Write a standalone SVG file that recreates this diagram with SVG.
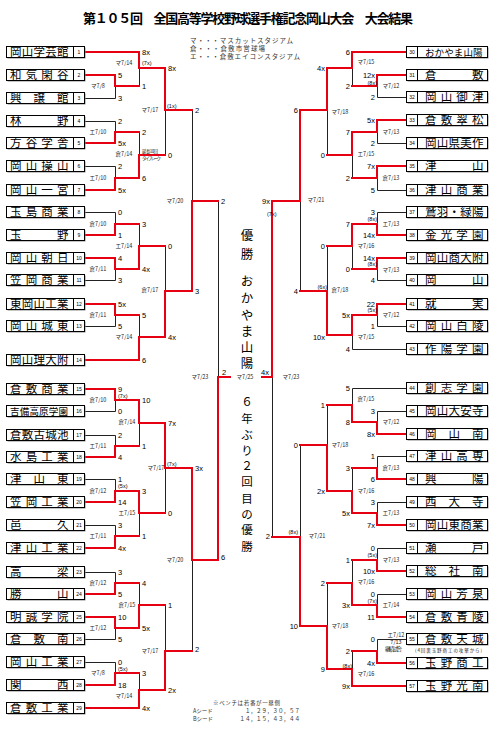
<svg xmlns="http://www.w3.org/2000/svg" xmlns:xlink="http://www.w3.org/1999/xlink" width="495" height="732" viewBox="0 0 495 732">
<style>
.bx{fill:#fff;stroke:#000;stroke-width:1}
.nm{font-family:"Noto Sans CJK JP",sans-serif;font-size:11.5px;fill:#000}
.n6{font-size:9.5px}
.no{font-family:"Liberation Sans",sans-serif;font-size:5px;text-anchor:middle;fill:#000}
.k{fill:none;stroke:#222;stroke-width:1}
.r{fill:none;stroke:#e60012;stroke-width:2;stroke-linecap:square}
.sc{font-family:"Liberation Sans",sans-serif;font-size:7.5px;fill:#000}
.se{font-family:"Liberation Sans",sans-serif;font-size:7.5px;fill:#000;text-anchor:end}
.in{font-family:"Liberation Sans",sans-serif;font-size:5.5px;fill:#000}
.ie{font-family:"Liberation Sans",sans-serif;font-size:5.5px;fill:#000;text-anchor:end}
.dt{font-family:"Noto Sans CJK JP",sans-serif;font-size:5.5px;text-anchor:middle;fill:#222}
.sm{font-family:"Noto Sans CJK JP",sans-serif;font-size:4.5px;fill:#222}
.ct{font-family:"Noto Sans CJK JP",sans-serif;font-size:12.5px;text-anchor:middle;fill:#000}
.c2{font-family:"Noto Sans CJK JP",sans-serif;font-size:11.5px;text-anchor:middle;fill:#000}
.lg{font-family:"Noto Sans CJK JP",sans-serif;font-size:6.5px;fill:#333}
.nt{font-family:"Noto Sans CJK JP",sans-serif;font-size:5.5px;fill:#333}
</style>
<defs>
<g id="bl"><rect x="7.5" y="1" width="78" height="11" fill="#8a8a8a"/><rect class="bx" x="6.5" y="0" width="67" height="11"/><rect class="bx" x="73.5" y="0" width="11" height="11"/></g>
<g id="br"><rect x="407.5" y="1" width="81" height="11" fill="#8a8a8a"/><rect class="bx" x="406.5" y="0" width="11" height="11"/><rect class="bx" x="417.5" y="0" width="70" height="11"/></g>
</defs>
<rect width="495" height="732" fill="#fff"/>
<text x="83" y="22.5" textLength="330" font-family="Noto Sans CJK JP, sans-serif" font-size="13" font-weight="bold">第１０５回　全国高等学校野球選手権記念岡山大会　大会結果</text>
<g id="legend">
<text class="lg" x="190" y="42.5" textLength="103">マ・・・マスカットスタジアム</text>
<text class="lg" x="190" y="50.5" textLength="75">倉・・・倉敷市営球場</text>
<text class="lg" x="190" y="58.5" textLength="110">エ・・・倉敷エイコンスタジアム</text>
</g>
<g id="connectors">
<path class="k" transform="translate(0.5,0.5)" d="M84 98H115M84 121H115M84 166H115M84 212H115M84 280H115M84 326H115M84 411H115M84 435H115M84 479H115M84 525H115M84 572H115M84 639H115M84 662H115
M115 98V86M115 121V132M115 166V178M115 212V224M115 280V269M115 326V315M115 411V400M115 435V446M115 479V491M115 525V536M115 572V583M115 639V628M115 662V673
M139 86V68M139 132V155M139 224V246M139 315V337M139 446V423M139 536V513M139 583V605M139 673V690
M165 155V110M165 246V291M165 513V468M165 605V651
M192 110V201M192 651V560M218 201V377
M407 97H377M407 143H377M407 190H377M407 212H377M407 280H377M407 326H377M407 349H352M407 388H352M407 411H377M407 456H377M407 502H377M407 548H377M407 594H377M407 639H377
M377 97V86M377 143V132M377 190V178M377 212V224M377 280V269M377 326V315M377 411V422M377 456V468M377 502V513M377 548V560M377 594V605M377 639V651
M352 86V68M352 178V155M352 269V246M352 349V335M352 388V405M352 468V491M352 560V583M352 651V669
M327 155V110M327 246V291M327 405V445M327 583V626
M300 291V201M300 445V537M272 537V377"/>
<path class="r" d="M84 52H139M84 75H115M84 143H115M84 190H115M84 235H115M84 258H115M84 304H115M84 360H139M84 389H115M84 457H115M84 502H115M84 548H115M84 594H115M84 617H115M84 685H115M84 708H139
M115 75V86H139M115 143V132H139M115 190V178H139M115 235V224H139M115 258V269H139M115 304V315H139M115 389V400H139M115 457V446H139M115 502V491H139M115 548V536H139M115 594V583H139M115 617V628H139M115 685V673H139
M139 52V68H165M139 178V155H165M139 269V246H165M139 360V337H165M139 400V423H165M139 491V513H165M139 628V605H165M139 708V690H165
M165 68V110H192M165 337V291H192M165 423V468H192M165 690V651H192
M192 291V201H218M192 468V560H218M218 560V377H230
M407 52H352M407 75H377M407 120H377M407 166H377M407 235H377M407 258H377M407 304H377M407 434H377M407 479H377M407 525H377M407 571H377M407 617H377M407 663H377M407 686H352
M377 75V86H352M377 120V132H352M377 166V178H352M377 235V224H352M377 258V269H352M377 304V315H352M377 434V422H352M377 479V468H352M377 525V513H352M377 571V560H352M377 617V605H352M377 663V651H352
M352 52V68H327M352 132V155H327M352 224V246H327M352 315V335H327M352 422V405H327M352 513V491H327M352 605V583H327M352 686V669H327
M327 68V110H300M327 335V291H300M327 491V445H300M327 669V626H300
M300 110V201H272M300 626V537H272M272 201V377H262"/>
</g>
<g id="t1"><use href="#bl" y="46.5"/><text class="nm" x="10 21.8 33.5 45.3 57" y="56">岡山学芸館</text><text class="no" x="79" y="54">1</text></g>
<g id="t2"><use href="#bl" y="69.5"/><text class="nm" x="10 25.7 41.3 57" y="79">和気閑谷</text><text class="no" x="79" y="77">2</text></g>
<g id="t3"><use href="#bl" y="92.5"/><text class="nm" x="10 33.5 57" y="102">興譲館</text><text class="no" x="79" y="100">3</text></g>
<g id="t4"><use href="#bl" y="115.5"/><text class="nm" x="10 57" y="125">林野</text><text class="no" x="79" y="123">4</text></g>
<g id="t5"><use href="#bl" y="137.5"/><text class="nm" x="10 25.7 41.3 57" y="147">方谷学舎</text><text class="no" x="79" y="145">5</text></g>
<g id="t6"><use href="#bl" y="160.5"/><text class="nm" x="10 25.7 41.3 57" y="170">岡山操山</text><text class="no" x="79" y="168">6</text></g>
<g id="t7"><use href="#bl" y="184.5"/><text class="nm" x="10 25.7 41.3 57" y="194">岡山一宮</text><text class="no" x="79" y="192">7</text></g>
<g id="t8"><use href="#bl" y="206.5"/><text class="nm" x="10 25.7 41.3 57" y="216">玉島商業</text><text class="no" x="79" y="214">8</text></g>
<g id="t9"><use href="#bl" y="229.5"/><text class="nm" x="10 57" y="239">玉野</text><text class="no" x="79" y="237">9</text></g>
<g id="t10"><use href="#bl" y="252.5"/><text class="nm" x="10 25.7 41.3 57" y="262">岡山朝日</text><text class="no" x="79" y="260">10</text></g>
<g id="t11"><use href="#bl" y="274.5"/><text class="nm" x="10 25.7 41.3 57" y="284">笠岡商業</text><text class="no" x="79" y="282">11</text></g>
<g id="t12"><use href="#bl" y="298.5"/><text class="nm" x="10 21.8 33.5 45.3 57" y="308">東岡山工業</text><text class="no" x="79" y="306">12</text></g>
<g id="t13"><use href="#bl" y="320.5"/><text class="nm" x="10 25.7 41.3 57" y="330">岡山城東</text><text class="no" x="79" y="328">13</text></g>
<g id="t14"><use href="#bl" y="354.5"/><text class="nm" x="10 21.8 33.5 45.3 57" y="364">岡山理大附</text><text class="no" x="79" y="362">14</text></g>
<g id="t15"><use href="#bl" y="383.5"/><text class="nm" x="10 25.7 41.3 57" y="393">倉敷商業</text><text class="no" x="79" y="391">15</text></g>
<g id="t16"><use href="#bl" y="405.5"/><text class="nm n6" x="10 19.7 29.4 39.1 48.8 58.5" y="414.5">吉備高原学園</text><text class="no" x="79" y="413">16</text></g>
<g id="t17"><use href="#bl" y="429.5"/><text class="nm" x="10 21.8 33.5 45.3 57" y="439">倉敷古城池</text><text class="no" x="79" y="437">17</text></g>
<g id="t18"><use href="#bl" y="451.5"/><text class="nm" x="10 25.7 41.3 57" y="461">水島工業</text><text class="no" x="79" y="459">18</text></g>
<g id="t19"><use href="#bl" y="473.5"/><text class="nm" x="10 33.5 57" y="483">津山東</text><text class="no" x="79" y="481">19</text></g>
<g id="t20"><use href="#bl" y="496.5"/><text class="nm" x="10 25.7 41.3 57" y="506">笠岡工業</text><text class="no" x="79" y="504">20</text></g>
<g id="t21"><use href="#bl" y="519.5"/><text class="nm" x="10 57" y="529">邑久</text><text class="no" x="79" y="527">21</text></g>
<g id="t22"><use href="#bl" y="542.5"/><text class="nm" x="10 25.7 41.3 57" y="552">津山工業</text><text class="no" x="79" y="550">22</text></g>
<g id="t23"><use href="#bl" y="566.5"/><text class="nm" x="10 57" y="576">高梁</text><text class="no" x="79" y="574">23</text></g>
<g id="t24"><use href="#bl" y="588.5"/><text class="nm" x="10 57" y="598">勝山</text><text class="no" x="79" y="596">24</text></g>
<g id="t25"><use href="#bl" y="611.5"/><text class="nm" x="10 25.7 41.3 57" y="621">明誠学院</text><text class="no" x="79" y="619">25</text></g>
<g id="t26"><use href="#bl" y="633.5"/><text class="nm" x="10 33.5 57" y="643">倉敷南</text><text class="no" x="79" y="641">26</text></g>
<g id="t27"><use href="#bl" y="656.5"/><text class="nm" x="10 25.7 41.3 57" y="666">岡山工業</text><text class="no" x="79" y="664">27</text></g>
<g id="t28"><use href="#bl" y="679.5"/><text class="nm" x="10 57" y="689">関西</text><text class="no" x="79" y="687">28</text></g>
<g id="t29"><use href="#bl" y="702.5"/><text class="nm" x="10 25.7 41.3 57" y="712">倉敷工業</text><text class="no" x="79" y="710">29</text></g>
<g id="t30"><use href="#br" y="46.5"/><text class="nm n6" x="425 434.6 444.2 453.8 463.4 473" y="55.5">おかやま山陽</text><text class="no" x="412" y="54">30</text></g>
<g id="t31"><use href="#br" y="69.5"/><text class="nm" x="425 472" y="79">倉敷</text><text class="no" x="412" y="77">31</text></g>
<g id="t32"><use href="#br" y="91.5"/><text class="nm" x="425 440.7 456.3 472" y="101">岡山御津</text><text class="no" x="412" y="99">32</text></g>
<g id="t33"><use href="#br" y="114.5"/><text class="nm" x="425 440.7 456.3 472" y="124">倉敷翠松</text><text class="no" x="412" y="122">33</text></g>
<g id="t34"><use href="#br" y="137.5"/><text class="nm" x="425 436.8 448.5 460.3 472" y="147">岡山県美作</text><text class="no" x="412" y="145">34</text></g>
<g id="t35"><use href="#br" y="160.5"/><text class="nm" x="425 472" y="170">津山</text><text class="no" x="412" y="168">35</text></g>
<g id="t36"><use href="#br" y="184.5"/><text class="nm" x="425 440.7 456.3 472" y="194">津山商業</text><text class="no" x="412" y="192">36</text></g>
<g id="t37"><use href="#br" y="206.5"/><text class="nm" x="425 436.8 448.5 460.3 472" y="216">鷲羽・緑陽</text><text class="no" x="412" y="214">37</text></g>
<g id="t38"><use href="#br" y="229.5"/><text class="nm" x="425 440.7 456.3 472" y="239">金光学園</text><text class="no" x="412" y="237">38</text></g>
<g id="t39"><use href="#br" y="252.5"/><text class="nm" x="425 436.8 448.5 460.3 472" y="262">岡山商大附</text><text class="no" x="412" y="260">39</text></g>
<g id="t40"><use href="#br" y="274.5"/><text class="nm" x="425 472" y="284">岡山</text><text class="no" x="412" y="282">40</text></g>
<g id="t41"><use href="#br" y="298.5"/><text class="nm" x="425 472" y="308">就実</text><text class="no" x="412" y="306">41</text></g>
<g id="t42"><use href="#br" y="320.5"/><text class="nm" x="425 440.7 456.3 472" y="330">岡山白陵</text><text class="no" x="412" y="328">42</text></g>
<g id="t43"><use href="#br" y="343.5"/><text class="nm" x="425 440.7 456.3 472" y="353">作陽学園</text><text class="no" x="412" y="351">43</text></g>
<g id="t44"><use href="#br" y="382.5"/><text class="nm" x="425 440.7 456.3 472" y="392">創志学園</text><text class="no" x="412" y="390">44</text></g>
<g id="t45"><use href="#br" y="405.5"/><text class="nm" x="425 436.8 448.5 460.3 472" y="415">岡山大安寺</text><text class="no" x="412" y="413">45</text></g>
<g id="t46"><use href="#br" y="428.5"/><text class="nm" x="425 448.5 472" y="438">岡山南</text><text class="no" x="412" y="436">46</text></g>
<g id="t47"><use href="#br" y="450.5"/><text class="nm" x="425 440.7 456.3 472" y="460">津山高専</text><text class="no" x="412" y="458">47</text></g>
<g id="t48"><use href="#br" y="473.5"/><text class="nm" x="425 472" y="483">興陽</text><text class="no" x="412" y="481">48</text></g>
<g id="t49"><use href="#br" y="496.5"/><text class="nm" x="425 448.5 472" y="506">西大寺</text><text class="no" x="412" y="504">49</text></g>
<g id="t50"><use href="#br" y="519.5"/><text class="nm" x="425 436.8 448.5 460.3 472" y="529">岡山東商業</text><text class="no" x="412" y="527">50</text></g>
<g id="t51"><use href="#br" y="542.5"/><text class="nm" x="425 472" y="552">瀬戸</text><text class="no" x="412" y="550">51</text></g>
<g id="t52"><use href="#br" y="565.5"/><text class="nm" x="425 448.5 472" y="575">総社南</text><text class="no" x="412" y="573">52</text></g>
<g id="t53"><use href="#br" y="588.5"/><text class="nm" x="425 440.7 456.3 472" y="598">岡山芳泉</text><text class="no" x="412" y="596">53</text></g>
<g id="t54"><use href="#br" y="611.5"/><text class="nm" x="425 440.7 456.3 472" y="621">倉敷青陵</text><text class="no" x="412" y="619">54</text></g>
<g id="t55"><use href="#br" y="633.5"/><text class="nm" x="425 440.7 456.3 472" y="643">倉敷天城</text><text class="no" x="412" y="641">55</text></g>
<g id="t56"><use href="#br" y="657.5"/><text class="nm" x="425 440.7 456.3 472" y="667">玉野商工</text><text class="no" x="412" y="665">56</text></g>
<g id="t57"><use href="#br" y="680.5"/><text class="nm" x="425 440.7 456.3 472" y="690">玉野光南</text><text class="no" x="412" y="688">57</text></g>
<g id="scores-left">
<text class="sc" x="118" y="77.5">5</text><text class="sc" x="118" y="100.5">3</text><text class="sc" x="118" y="123.5">2</text><text class="sc" x="118" y="145.5">5x</text><text class="sc" x="118" y="168.5">2</text><text class="sc" x="118" y="192.5">5x</text><text class="sc" x="118" y="214.5">0</text><text class="sc" x="118" y="237.5">1</text><text class="sc" x="118" y="260.5">4</text><text class="sc" x="118" y="282.5">3</text><text class="sc" x="118" y="306.5">5x</text><text class="sc" x="118" y="328.5">5</text><text class="sc" x="118" y="391.5">9</text><text class="in" x="118" y="397.5">(7x)</text><text class="sc" x="118" y="413.5">0</text><text class="sc" x="118" y="437.5">2</text><text class="sc" x="118" y="459.5">4</text><text class="sc" x="118" y="481.5">1</text><text class="in" x="118" y="487.5">(5x)</text><text class="sc" x="118" y="504.5">14</text><text class="sc" x="118" y="527.5">3</text><text class="sc" x="118" y="550.5">4x</text><text class="sc" x="118" y="574.5">3</text><text class="sc" x="118" y="596.5">5</text><text class="sc" x="118" y="619.5">10</text><text class="sc" x="118" y="641.5">5</text><text class="sc" x="118" y="664.5">0</text><text class="in" x="118" y="670.5">(5x)</text><text class="sc" x="118" y="687.5">18</text>
<text class="sc" x="142" y="54.5">8x</text><text class="in" x="142" y="65">(7x)</text><text class="sc" x="142" y="88.5">1</text><text class="sc" x="142" y="134.5">2</text><text class="sm" x="142" y="152.5" textLength="16">延長10回</text><text class="sm" x="142" y="160" textLength="19">タイブレーク</text><text class="sc" x="142" y="180.5">6</text><text class="sc" x="142" y="226.5">3</text><text class="sc" x="142" y="271.5">4x</text><text class="sc" x="142" y="317.5">5</text><text class="sc" x="142" y="362.5">6</text><text class="sc" x="142" y="402.5">10</text><text class="sc" x="142" y="448.5">1</text><text class="sc" x="142" y="493.5">3</text><text class="sc" x="142" y="538.5">1</text><text class="sc" x="142" y="585.5">4</text><text class="sc" x="142" y="630.5">5x</text><text class="sc" x="142" y="675.5">3</text><text class="sc" x="142" y="710.5">4x</text>
<text class="sc" x="168" y="70.5">8x</text><text class="in" x="167" y="108">(1x)</text><text class="sc" x="168" y="157.5">0</text><text class="sc" x="168" y="248.5">0</text><text class="sc" x="168" y="339.5">4x</text><text class="sc" x="168" y="425.5">7x</text><text class="in" x="167" y="466">(7x)</text><text class="sc" x="168" y="515.5">0</text><text class="sc" x="168" y="607.5">1</text><text class="sc" x="168" y="692.5">2x</text>
<text class="sc" x="195" y="112.5">2</text><text class="sc" x="195" y="293.5">3</text><text class="sc" x="195" y="470.5">3x</text><text class="sc" x="195" y="651.5">2</text>
<text class="sc" x="221" y="203.5">2</text><text class="sc" x="221" y="560">6</text>
<text class="sc" x="222" y="374.5">2</text><text class="se" x="269" y="374.5">4x</text>
</g>
<g id="scores-right">
<text class="se" x="375" y="77.5">12x</text><text class="ie" x="377" y="85">(8x)</text><text class="se" x="375" y="99.5">2</text><text class="se" x="375" y="122.5">5x</text><text class="se" x="375" y="145.5">2</text><text class="se" x="375" y="168.5">7x</text><text class="se" x="375" y="192.5">5</text><text class="se" x="375" y="214.5">3</text><text class="ie" x="377" y="221">(8x)</text><text class="se" x="375" y="237.5">14x</text><text class="se" x="375" y="260.5">14x</text><text class="ie" x="377" y="266">(8x)</text><text class="se" x="375" y="282.5">4</text><text class="se" x="375" y="306.5">22</text><text class="ie" x="377" y="312">(5x)</text><text class="se" x="375" y="328.5">1</text><text class="se" x="375" y="413.5">3</text><text class="se" x="375" y="436.5">8x</text><text class="se" x="375" y="458.5">1</text><text class="se" x="375" y="481.5">6</text><text class="se" x="375" y="504.5">3</text><text class="se" x="375" y="527.5">7x</text><text class="se" x="375" y="550.5">0</text><text class="ie" x="377" y="557">(5x)</text><text class="se" x="375" y="573.5">10x</text><text class="se" x="375" y="596.5">0</text><text class="ie" x="377" y="603">(7x)</text><text class="se" x="375" y="619.5">11</text><text class="se" x="375" y="641.5">0</text><text class="se" x="375" y="665.5">4x</text>
<text class="se" x="350" y="54.5">6</text><text class="se" x="350" y="88.5">2</text><text class="se" x="350" y="134.5">7</text><text class="se" x="350" y="180.5">2</text><text class="se" x="350" y="226.5">7</text><text class="se" x="350" y="271.5">0</text><text class="se" x="350" y="317.5">5x</text><text class="se" x="350" y="351.5">4</text><text class="se" x="350" y="390.5">5</text><text class="se" x="350" y="424.5">8</text><text class="se" x="350" y="470.5">3</text><text class="se" x="350" y="515.5">5x</text><text class="se" x="350" y="562.5">1</text><text class="se" x="350" y="607.5">3x</text><text class="se" x="350" y="653.5">2</text><text class="ie" x="352" y="667.5">(8x)</text><text class="se" x="350" y="688.5">9x</text>
<text class="se" x="325" y="70.5">4x</text><text class="se" x="325" y="157.5">0</text><text class="se" x="325" y="248.5">0</text><text class="ie" x="327" y="289">(6x)</text><text class="se" x="325" y="339.5">10x</text><text class="se" x="325" y="407.5">1</text><text class="se" x="325" y="493.5">2x</text><text class="se" x="325" y="585.5">2</text><text class="se" x="325" y="671.5">9</text>
<text class="se" x="298" y="112.5">6</text><text class="se" x="298" y="293.5">4</text><text class="se" x="298" y="447.5">0</text><text class="ie" x="298" y="534">(8x)</text><text class="se" x="298" y="628.5">10</text>
<text class="se" x="270" y="203.5">9x</text><text class="in" x="267" y="216">(7x)</text><text class="se" x="270" y="539">2</text>
</g>
<g id="dates">
<text class="dt" x="98" y="88">マ7/8</text><text class="dt" x="98" y="134">エ7/10</text><text class="dt" x="98" y="180">エ7/10</text><text class="dt" x="98" y="226">倉7/10</text><text class="dt" x="98" y="271">倉7/11</text><text class="dt" x="98" y="317">倉7/11</text><text class="dt" x="98" y="402">倉7/10</text><text class="dt" x="98" y="448">エ7/11</text><text class="dt" x="98" y="493">倉7/12</text><text class="dt" x="98" y="538">エ7/11</text><text class="dt" x="98" y="585">倉7/12</text><text class="dt" x="98" y="630">エ7/12</text><text class="dt" x="98" y="675">マ7/8</text>
<text class="dt" x="124" y="65">マ7/14</text><text class="dt" x="124" y="156">倉7/14</text><text class="dt" x="124" y="248">エ7/14</text><text class="dt" x="124" y="339">マ7/14</text><text class="dt" x="127" y="424">倉7/14</text><text class="dt" x="127" y="515">エ7/15</text><text class="dt" x="127" y="607">倉7/15</text><text class="dt" x="124" y="698">マ7/14</text>
<text class="dt" x="150" y="112">マ7/17</text><text class="dt" x="150" y="292">倉7/17</text><text class="dt" x="156" y="470">マ7/17</text><text class="dt" x="150" y="653">マ7/17</text>
<text class="dt" x="175" y="203">マ7/20</text><text class="dt" x="175" y="562">マ7/20</text>
<text class="dt" x="200" y="379">マ7/23</text><text class="dt" x="245" y="379">マ7/25</text><text class="dt" x="291" y="379">マ7/23</text>
<text class="dt" x="391" y="88">マ7/12</text><text class="dt" x="391" y="134">マ7/13</text><text class="dt" x="391" y="180">倉7/13</text><text class="dt" x="391" y="226">エ7/13</text><text class="dt" x="391" y="272">マ7/13</text><text class="dt" x="391" y="317">マ7/12</text><text class="dt" x="391" y="424">マ7/12</text><text class="dt" x="391" y="470">倉7/13</text><text class="dt" x="391" y="515">エ7/13</text><text class="dt" x="391" y="562">マ7/13</text><text class="dt" x="391" y="607">エ7/14</text>
<text class="dt" x="396" y="637" font-size="5">エ7/12</text><text class="dt" x="396" y="644" font-size="5">7/13</text><text class="dt" x="393.5" y="650.5" font-size="4.5" textLength="17">継続試合</text>
<text class="dt" x="366" y="64">マ7/15</text><text class="dt" x="366" y="156">エ7/15</text><text class="dt" x="366" y="248">マ7/16</text><text class="dt" x="366" y="339">マ7/15</text><text class="dt" x="366" y="401">倉7/15</text><text class="dt" x="366" y="493">マ7/16</text><text class="dt" x="366" y="584">マ7/16</text><text class="dt" x="366" y="676">マ7/16</text>
<text class="dt" x="340" y="114">マ7/18</text><text class="dt" x="340" y="292">倉7/18</text><text class="dt" x="340" y="447">マ7/18</text><text class="dt" x="340" y="628">マ7/18</text>
<text class="dt" x="316" y="202">マ7/21</text><text class="dt" x="317" y="538">マ7/21</text>
<text class="sm" x="415" y="651.5" textLength="67" font-size="5">(4回裏玉野商工の攻撃から)</text>
</g>
<g id="center">
<text class="ct" x="247" y="240">優</text><text class="ct" x="247" y="259">勝</text>
<text class="ct" x="247" y="286">お</text><text class="ct" x="247" y="303">か</text><text class="ct" x="247" y="320">や</text><text class="ct" x="247" y="336">ま</text><text class="ct" x="247" y="351.5">山</text><text class="ct" x="247" y="368">陽</text>
<text class="c2" x="247" y="405.5">６</text><text class="c2" x="247" y="422.5">年</text><text class="c2" x="247" y="438.5">ぶ</text><text class="c2" x="247" y="455">り</text><text class="c2" x="247" y="469.5">２</text><text class="c2" x="247" y="485.5">回</text><text class="c2" x="247" y="502.5">目</text><text class="c2" x="247" y="518.5">の</text><text class="c2" x="247" y="533.5">優</text><text class="c2" x="247" y="550.5">勝</text>
</g>
<g id="notes">
<text class="nt" x="213" y="704.5" textLength="67">※ベンチは若番が一塁側</text>
<text class="nt" x="193" y="713">Aシード</text><text class="nt" x="300" y="713" text-anchor="end">１，２９，３０，５７</text>
<text class="nt" x="193" y="721">Bシード</text><text class="nt" x="300" y="721" text-anchor="end">１４，１５，４３，４４</text>
</g>
</svg>
